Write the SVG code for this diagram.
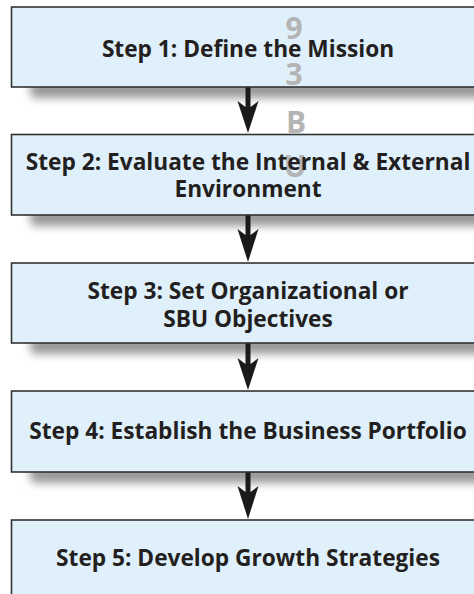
<svg xmlns="http://www.w3.org/2000/svg" width="474" height="594" viewBox="0 0 474 594">
<defs>
<filter id="sh" x="-10%" y="-100%" width="120%" height="300%"><feGaussianBlur stdDeviation="4"/></filter>
<style>
.box{fill:#dff0fb;stroke:#333;stroke-width:1.6}
.t{font-family:"Open Sans","Noto Sans",sans-serif;font-weight:bold;font-size:22.7px;fill:#231f20;text-anchor:middle}
.wm{font-family:"Open Sans","Liberation Sans",sans-serif;font-weight:bold;font-size:30px;fill:#b4b4b4;text-anchor:middle}
.shadow{fill:#9a9a9a;filter:url(#sh)}
.arr{fill:#1a1a1a}
</style>
</defs>
<rect width="474" height="594" fill="#fff"/>
<g id="shadows">
<rect class="shadow" x="30" y="80" width="470" height="18" rx="6"/>
<rect class="shadow" x="30" y="208" width="470" height="18" rx="6"/>
<rect class="shadow" x="30" y="336" width="470" height="18" rx="6"/>
<rect class="shadow" x="30" y="465" width="470" height="18" rx="6"/>
</g>
<g id="connectors">
<path class="arr" d="M245.5,87 V107 L237.5,101 L248,133 L258.5,101 L250.5,107 V87 Z"/>
<path class="arr" d="M245.5,215 V235 L237.5,229 L248,262 L258.5,229 L250.5,235 V215 Z"/>
<path class="arr" d="M245.5,343 V364 L237.5,358 L248,390 L258.5,358 L250.5,364 V343 Z"/>
<path class="arr" d="M245.5,472 V492 L237.5,486 L248,519 L258.5,486 L250.5,492 V472 Z"/>
</g>
<g id="step1"><rect class="box" x="11.5" y="7" width="470" height="80"/></g>
<g id="step2"><rect class="box" x="11.5" y="134.5" width="470" height="80.5"/></g>
<g id="step3"><rect class="box" x="11.5" y="263" width="470" height="80"/></g>
<g id="step4"><rect class="box" x="11.5" y="391" width="470" height="81"/></g>
<g id="step5"><rect class="box" x="11.5" y="520" width="470" height="90"/></g>
<g id="watermark">
<text class="wm" x="294" y="39">9</text>
<text class="wm" x="294" y="85">3</text>
<text class="wm" x="296" y="133">B</text>
<text class="wm" x="295" y="177">U</text>
</g>
<g id="labels">
<text class="t" x="248" y="56.5">Step 1: Define the Mission</text>
<text class="t" x="248" y="170">Step 2: Evaluate the Internal &amp; External</text>
<text class="t" x="248" y="196.5">Environment</text>
<text class="t" x="248" y="298.5">Step 3: Set Organizational or</text>
<text class="t" x="248" y="326.5">SBU Objectives</text>
<text class="t" x="248" y="439">Step 4: Establish the Business Portfolio</text>
<text class="t" x="248" y="566">Step 5: Develop Growth Strategies</text>
</g>
</svg>
